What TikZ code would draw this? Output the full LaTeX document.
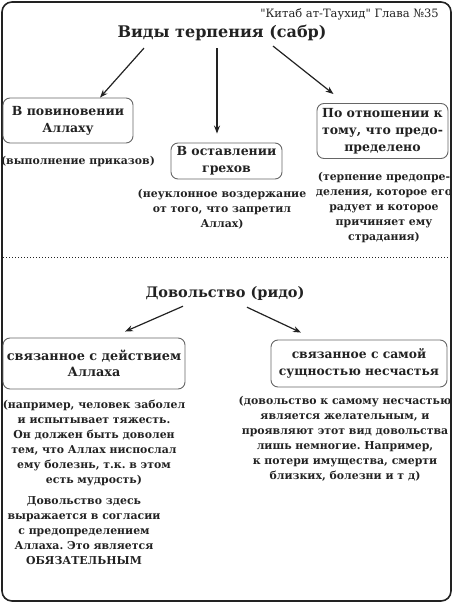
\documentclass[tikz,border=0pt]{standalone}
\usepackage{fontspec}
\setmainfont{DejaVu Serif}
\newfontfamily\srcfont{DejaVu Serif}[Ligatures=TeXOff]
\usetikzlibrary{arrows.meta}
\definecolor{ink}{HTML}{222222}
\frenchspacing
\tikzset{
  boxst/.style={draw=black!60, line width=0.9pt, rounded corners=7pt, align=center, inner sep=2pt,
    text=ink, font=\bfseries\fontsize{12.5}{17}\selectfont},
  subst/.style={align=center, inner sep=0pt, text=ink, font=\bfseries\fontsize{10.9}{15}\selectfont},
  arr/.style={draw=ink, line width=1.2pt, -{Stealth[length=8pt,width=6pt]}},
}
\begin{document}
\begin{tikzpicture}[x=1pt,y=-1pt]
\useasboundingbox (0,0) rectangle (453,604);
\draw[line width=1.6pt, draw=ink, rounded corners=10pt] (2,2) rectangle (451,601);
\node[anchor=east, text=ink, font=\srcfont\fontsize{11.5}{13}\selectfont, inner sep=0pt] (src) at (439,14) {"Китаб ат-Таухид" Глава №35};
\node[text=ink, font=\bfseries\fontsize{16}{18}\selectfont, inner sep=1pt] (title) at (222,33) {Виды терпения (сабр)};

\node[boxst, minimum width=130pt, minimum height=45pt] (b1) at (68,120.5) {В повиновении\\Аллаху};
\node[boxst, minimum width=111pt, minimum height=36pt] (b2) at (226.5,161) {В оставлении\\грехов};
\node[boxst, minimum width=131pt, minimum height=55pt] (b3) at (382.5,131) {По отношении к\\тому, что предо-\\пределено};

\node[subst] (s1) at (78,161) {(выполнение приказов)};
\node[subst] (s2) at (222,209) {(неуклонное воздержание\\от того, что запретил\\Аллах)};
\node[subst] (s3) at (384,207) {(терпение предопре-\\деления, которое его\\радует и которое\\причиняет ему\\страдания)};

\draw[arr] ([xshift=-78pt,yshift=-6pt]title.south) -- ([xshift=32pt]b1.north);
\draw[arr] ([xshift=-5pt,yshift=-6pt]title.south) -- ([xshift=-9.5pt,yshift=9pt]b2.north);
\draw[arr] ([xshift=51pt,yshift=-4pt]title.south) -- ([xshift=-49pt,yshift=9pt]b3.north);

\draw[ink, line width=1pt, dotted] (3,257) -- (451,257);

\node[text=ink, font=\bfseries\fontsize{14.5}{17}\selectfont, inner sep=1pt] (title2) at (225,293) {Довольство (ридо)};
\node[boxst, font=\bfseries\fontsize{12.8}{16.5}\selectfont, minimum width=182pt, minimum height=51pt] (b4) at (94,363.5) {связанное с действием\\Аллаха};
\node[boxst, font=\bfseries\fontsize{12.3}{16.5}\selectfont, minimum width=176pt, minimum height=47pt] (b5) at (359,363.5) {связанное с самой\\сущностью несчастья};

\draw[arr] ([xshift=-42pt,yshift=-5pt]title2.south) -- ([xshift=31pt,yshift=6pt]b4.north);
\draw[arr] ([xshift=22pt,yshift=-6pt]title2.south) -- ([xshift=-58pt,yshift=7pt]b5.north);

\node[subst] (s4) at (94,442.5) {(например, человек заболел\\и испытывает тяжесть.\\Он должен быть доволен\\тем, что Аллах ниспослал\\ему болезнь, т.к. в этом\\есть мудрость)};
\node[subst] (s5) at (84,531) {Довольство здесь\\выражается в согласии\\с предопределением\\Аллаха. Это является\\ОБЯЗАТЕЛЬНЫМ};
\node[subst] (s6) at (345,439) {(довольство к самому несчастью\\является желательным, и\\проявляют этот вид довольства\\лишь немногие. Например,\\к потери имущества, смерти\\близких, болезни и т д)};
\end{tikzpicture}
\end{document}
